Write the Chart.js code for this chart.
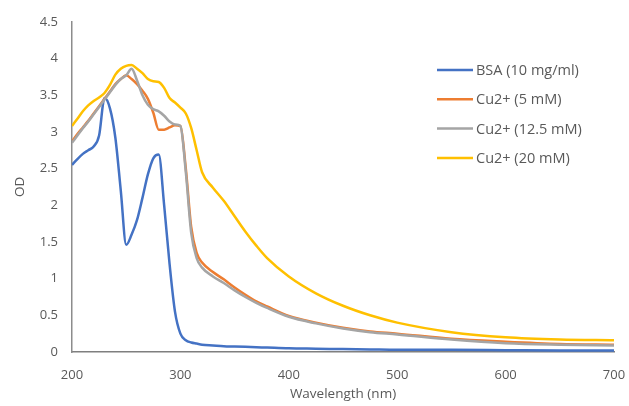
<!DOCTYPE html>
<html>
<head>
<meta charset="utf-8">
<script src="https://cdn.jsdelivr.net/npm/chart.js@4.4.1/dist/chart.umd.min.js"></script>
<style>
  html, body { margin: 0; padding: 0; background: #fff; }
  #wrap { width: 629px; height: 406px; position: relative; }
</style>
</head>
<body>
<div id="wrap"><canvas id="chart"></canvas></div>
<script>
const wavelengths = [200, 205, 210, 215, 220, 225, 230, 235, 240, 245, 250, 255, 260, 265, 270, 275, 280, 285, 290, 295, 300, 305, 310, 315, 320, 330, 340, 350, 360, 370, 380, 400, 425, 450, 475, 500, 550, 600, 650, 700];

const bsa = [2.55, 2.63, 2.70, 2.75, 2.80, 2.95, 3.46, 3.32, 2.92, 2.20, 1.46, 1.60, 1.80, 2.10, 2.42, 2.64, 2.69, 2.00, 1.20, 0.55, 0.25, 0.16, 0.13, 0.115, 0.10, 0.09, 0.08, 0.075, 0.07, 0.065, 0.06, 0.05, 0.045, 0.04, 0.035, 0.03, 0.03, 0.025, 0.02, 0.02];

const cu5 = [2.87, 2.97, 3.06, 3.15, 3.25, 3.35, 3.45, 3.55, 3.65, 3.72, 3.77, 3.72, 3.65, 3.56, 3.45, 3.26, 3.03, 3.03, 3.06, 3.09, 3.08, 2.50, 1.70, 1.35, 1.22, 1.09, 0.99, 0.88, 0.78, 0.69, 0.62, 0.49, 0.40, 0.33, 0.28, 0.25, 0.18, 0.14, 0.11, 0.10];

const cu125 = [2.85, 2.95, 3.05, 3.14, 3.24, 3.34, 3.44, 3.54, 3.64, 3.72, 3.77, 3.86, 3.70, 3.50, 3.37, 3.31, 3.28, 3.22, 3.14, 3.10, 3.08, 2.45, 1.62, 1.28, 1.15, 1.03, 0.94, 0.84, 0.75, 0.67, 0.60, 0.48, 0.39, 0.32, 0.27, 0.24, 0.17, 0.12, 0.10, 0.09];

const cu20 = [3.08, 3.18, 3.28, 3.36, 3.42, 3.47, 3.53, 3.64, 3.78, 3.86, 3.90, 3.91, 3.86, 3.80, 3.72, 3.69, 3.68, 3.60, 3.46, 3.40, 3.33, 3.25, 3.05, 2.75, 2.45, 2.24, 2.06, 1.85, 1.64, 1.45, 1.28, 1.03, 0.80, 0.63, 0.50, 0.40, 0.27, 0.20, 0.17, 0.16];

const seriesNames = ["BSA (10 mg/ml)", "Cu2+ (5 mM)", "Cu2+ (12.5 mM)", "Cu2+ (20 mM)"];
const seriesColors = ["#4472C4", "#ED7D31", "#A5A5A5", "#FFC000"];
const seriesValues = [bsa, cu5, cu125, cu20];

const xTicks = [200, 300, 400, 500, 600, 700];
const yTicks = [0, 0.5, 1, 1.5, 2, 2.5, 3, 3.5, 4, 4.5];

const FONT = "'Open Sans', 'Noto Sans', sans-serif";
const TEXT = "#595959";

// legend sits inside the plot area, like the original
const insideLegend = {
  id: "insideLegend",
  afterDraw(chart) {
    const ctx = chart.ctx;
    const x0 = 437, y0 = 70, gap = 29.3;
    ctx.save();
    ctx.font = "14.5px " + FONT;
    ctx.textBaseline = "middle";
    ctx.fillStyle = TEXT;
    seriesNames.forEach((name, i) => {
      const y = y0 + i * gap;
      ctx.strokeStyle = seriesColors[i];
      ctx.lineWidth = 2.5;
      ctx.beginPath();
      ctx.moveTo(x0, y);
      ctx.lineTo(x0 + 36, y);
      ctx.stroke();
      ctx.fillText(name, x0 + 39, y + 1);
    });
    ctx.restore();
  }
};

const datasets = seriesValues.map((vals, i) => ({
  label: seriesNames[i],
  data: wavelengths.map((w, j) => ({ x: w, y: vals[j] })),
  borderColor: seriesColors[i],
  backgroundColor: seriesColors[i],
  borderWidth: 2.5,
  pointRadius: 0,
  cubicInterpolationMode: "monotone",
  order: 3 - i,
}));

new Chart(document.getElementById("chart").getContext("2d"), {
  type: "line",
  data: { datasets: datasets },
  options: {
    responsive: true,
    maintainAspectRatio: false,
    animation: false,
    layout: { padding: { top: 20, right: 15, left: 12, bottom: 0 } },
    plugins: {
      legend: { display: false },
      tooltip: { enabled: false },
    },
    scales: {
      x: {
        type: "linear",
        min: 200,
        max: 700,
        afterBuildTicks: (s) => { s.ticks = xTicks.map((v) => ({ value: v })); },
        afterFit: (s) => { s.height = 54; s.paddingLeft = 0; s.paddingRight = 0; },
        grid: { display: false, drawTicks: false },
        border: { display: true, color: "#7f7f7f", width: 1.5 },
        ticks: { color: TEXT, font: { family: FONT, size: 13 }, padding: 15, maxRotation: 0 },
        title: { display: true, text: "Wavelength (nm)", color: TEXT, font: { family: FONT, size: 13.5 }, padding: { top: 0, bottom: 4 } },
      },
      y: {
        min: 0,
        max: 4.5,
        afterBuildTicks: (s) => { s.ticks = yTicks.map((v) => ({ value: v })); },
        afterFit: (s) => { s.width = 60; },
        grid: { display: false, drawTicks: false },
        border: { display: true, color: "#8c8c8c", width: 1.5 },
        ticks: { color: TEXT, font: { family: FONT, size: 13 }, padding: 14, callback: (v) => String(v) },
        title: { display: true, text: "OD", color: TEXT, font: { family: FONT, size: 13.5 }, padding: { top: 0, bottom: 4 } },
      },
    },
  },
  plugins: [insideLegend],
});
</script>
</body>
</html>
